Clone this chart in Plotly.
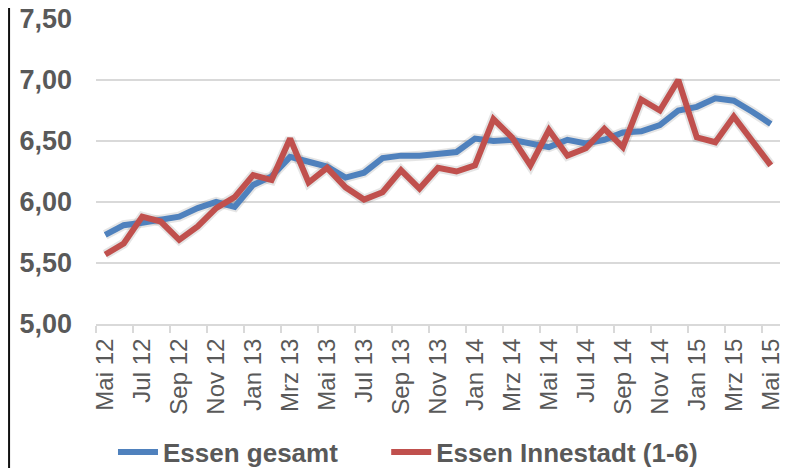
import plotly.graph_objects as go

# Monatsreihe Mai 2012 - Mai 2015
months = ["Mai 12", "Jun 12", "Jul 12", "Aug 12", "Sep 12", "Okt 12", "Nov 12", "Dez 12",
          "Jan 13", "Feb 13", "Mrz 13", "Apr 13", "Mai 13", "Jun 13", "Jul 13", "Aug 13",
          "Sep 13", "Okt 13", "Nov 13", "Dez 13", "Jan 14", "Feb 14", "Mrz 14", "Apr 14",
          "Mai 14", "Jun 14", "Jul 14", "Aug 14", "Sep 14", "Okt 14", "Nov 14", "Dez 14",
          "Jan 15", "Feb 15", "Mrz 15", "Apr 15", "Mai 15"]

essen_gesamt = [5.73, 5.81, 5.83, 5.85, 5.88, 5.95, 6.00, 5.96, 6.14, 6.21, 6.37, 6.33,
                6.29, 6.20, 6.24, 6.36, 6.38, 6.38, 6.39, 6.41, 6.52, 6.50, 6.51, 6.48,
                6.45, 6.51, 6.48, 6.51, 6.57, 6.58, 6.63, 6.75, 6.78, 6.85, 6.83, 6.74, 6.64]

essen_innenstadt = [5.57, 5.66, 5.88, 5.84, 5.69, 5.80, 5.95, 6.04, 6.22, 6.18, 6.52, 6.16,
                    6.28, 6.12, 6.02, 6.08, 6.26, 6.11, 6.28, 6.25, 6.30, 6.68, 6.53, 6.30,
                    6.59, 6.38, 6.44, 6.60, 6.45, 6.84, 6.75, 7.00, 6.53, 6.49, 6.70, 6.49, 6.30]

y_ticks = [5.0, 5.5, 6.0, 6.5, 7.0, 7.5]

idx = list(range(len(months)))
label_idx = idx[::2]

fig = go.Figure()

# soft shadow under the lines, like the Excel original
for vals in (essen_gesamt, essen_innenstadt):
    fig.add_trace(go.Scatter(
        x=idx, y=vals, mode="lines", showlegend=False, hoverinfo="skip",
        line=dict(color="rgba(0,0,0,0.10)", width=10)))

# trailing no-break spaces widen the gap between the two legend entries
fig.add_trace(go.Scatter(
    x=idx, y=essen_gesamt, mode="lines", name="Essen gesamt" + "\u00a0" * 6,
    line=dict(color="#4F81BD", width=6)))
fig.add_trace(go.Scatter(
    x=idx, y=essen_innenstadt, mode="lines", name="Essen Innestadt (1-6)",
    line=dict(color="#C0504D", width=6)))

fig.update_xaxes(
    range=[-0.5, len(months) - 0.5],
    tickmode="array", tickvals=label_idx, ticktext=[months[i] for i in label_idx],
    tickangle=-90, ticks="", showgrid=False, zeroline=False,
    showline=True, linecolor="#D9D9D9", linewidth=2,
    tickfont=dict(family="Arial, Liberation Sans", size=24, color="#595959"),
    ticklabelstandoff=3, automargin=False, ticklabeloverflow="allow",
    minor=dict(tickvals=[i - 0.5 for i in label_idx], ticks="outside",
               ticklen=7, tickwidth=2, tickcolor="#D9D9D9", showgrid=False))

fig.update_yaxes(
    range=[5.0, 7.5], tickmode="array", tickvals=y_ticks,
    ticktext=[f"{v:.2f}".replace(".", ",") for v in y_ticks],
    showgrid=True, gridcolor="#D9D9D9", gridwidth=2, zeroline=False,
    showline=False, ticks="", automargin=False, ticklabeloverflow="allow",
    tickfont=dict(family="Arial, Liberation Sans", size=27, color="#595959",
                  weight="bold"),
    ticklabelstandoff=23)

# dark frame line at the left edge
fig.add_shape(type="line", xref="paper", yref="paper",
              x0=-87 / 684.5, x1=-87 / 684.5, y0=-144 / 305, y1=(305 + 11) / 305,
              line=dict(color="#111111", width=2))

# page body adds 8px, so the figure is 8px smaller and margins shifted
fig.update_layout(
    width=782, height=460,
    margin=dict(l=88, r=9.5, t=11, b=144),
    plot_bgcolor="white", paper_bgcolor="white",
    showlegend=True,
    legend=dict(orientation="h", x=(107 - 88 - 2) / 684.5, xanchor="left",
                yref="container", y=16 / 460, yanchor="middle",
                font=dict(family="Arial, Liberation Sans", size=26, color="#595959",
                          weight="bold"),
                itemwidth=40, bgcolor="rgba(0,0,0,0)"),
)

fig.write_html("out.html")
